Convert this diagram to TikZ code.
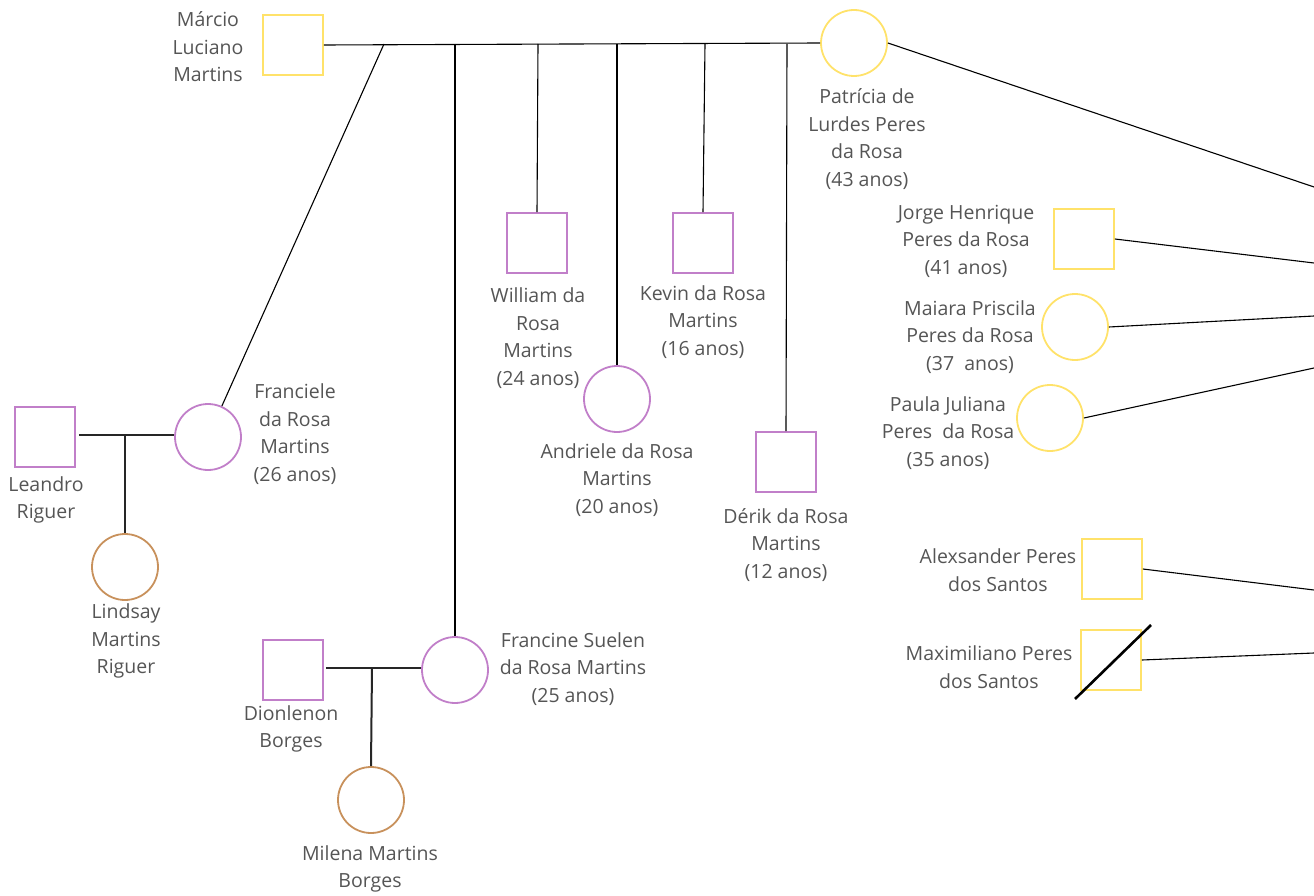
\documentclass[tikz,border=0pt]{standalone}
\usepackage{fontspec}
\setmainfont{Open Sans}
\definecolor{ylw}{HTML}{FFE26A}
\definecolor{prp}{HTML}{C17FC9}
\definecolor{brn}{HTML}{C8915C}
\definecolor{txt}{HTML}{555555}
\tikzset{
  sq/.style={rectangle, minimum size=60pt, inner sep=0pt, line width=1.8pt},
  ci/.style={circle, minimum size=66pt, inner sep=0pt, line width=1.8pt},
  lbl/.style={align=center, text=txt, font=\fontsize{19.5}{27.5}\selectfont, inner sep=0pt},
  conn/.style={line width=1.1pt, draw=black},
  marr/.style={line width=2pt, draw=black!85},
  slash/.style={line width=2.6pt, draw=black},
}
\begin{document}
\begin{tikzpicture}[x=1pt,y=-1pt]
\useasboundingbox (0,0) rectangle (1314,896);
% generation 1
\node[sq, draw=ylw] (marcio) at (293,45) {};
\node[lbl] (tmarcio) at (208,47) {Márcio\\Luciano\\Martins};
\node[ci, draw=ylw] (patricia) at (854,43) {};
\node[lbl] (tpatricia) at (867,139) {Patrícia de\\Lurdes Peres\\da Rosa\\(43 anos)};
% children
\node[ci, draw=prp] (franciele) at (208,437) {};
\node[lbl] (tfranciele) at (295,434) {Franciele\\da Rosa\\Martins\\(26 anos)};
\node[ci, draw=prp] (francine) at (455,670) {};
\node[lbl] (tfrancine) at (573,669) {Francine Suelen\\da Rosa Martins\\(25 anos)};
\node[sq, draw=prp] (william) at (537,243) {};
\node[lbl] (twilliam) at (538,338) {William da\\Rosa\\Martins\\(24 anos)};
\node[ci, draw=prp] (andriele) at (617,399) {};
\node[lbl] (tandriele) at (617,480) {Andriele da Rosa\\Martins\\(20 anos)};
\node[sq, draw=prp] (kevin) at (703,243) {};
\node[lbl] (tkevin) at (703,322) {Kevin da Rosa\\Martins\\(16 anos)};
\node[sq, draw=prp] (derik) at (786,462) {};
\node[lbl] (tderik) at (786,545) {Dérik da Rosa\\Martins\\(12 anos)};
% Franciele family
\node[sq, draw=prp] (leandro) at (45,437) {};
\node[lbl] (tleandro) at (46,500) {Leandro\\Riguer};
\node[ci, draw=brn] (lindsay) at (125,567) {};
\node[lbl] (tlindsay) at (126,641) {Lindsay\\Martins\\Riguer};
% Francine family
\node[sq, draw=prp] (dionlenon) at (293,670) {};
\node[lbl] (tdionlenon) at (291,729) {Dionlenon\\Borges};
\node[ci, draw=brn] (milena) at (371,800) {};
\node[lbl] (tmilena) at (370,869) {Milena Martins\\Borges};
% Patricia siblings
\node[sq, draw=ylw] (jorge) at (1084,239) {};
\node[lbl] (tjorge) at (966,241) {Jorge Henrique\\Peres da Rosa\\(41 anos)};
\node[ci, draw=ylw] (maiara) at (1075,327) {};
\node[lbl] (tmaiara) at (970,337) {Maiara Priscila\\Peres da Rosa\\(37~ anos)};
\node[ci, draw=ylw] (paula) at (1050,418) {};
\node[lbl] (tpaula) at (948,433) {Paula Juliana\\Peres~ da Rosa\\(35 anos)};
\node[sq, draw=ylw] (alex) at (1112,569) {};
\node[lbl] (talex) at (998,570) {Alexsander Peres\\dos Santos};
\node[sq, draw=ylw] (maxim) at (1111,660) {};
\node[lbl] (tmaxim) at (989,667) {Maximiliano Peres\\dos Santos};
% coordinates
\coordinate (jfr) at (384,44);
\coordinate (jfc) at (455,44);
\coordinate (jwi) at (538,44);
\coordinate (jan) at (617,44);
\coordinate (jke) at (705,44);
\coordinate (jde) at (787,44);
\coordinate (e1) at (1314,187);
\coordinate (e2) at (1314,263);
\coordinate (e3) at (1314,316);
\coordinate (e4) at (1314,368);
\coordinate (e5) at (1314,590);
\coordinate (e6) at (1314,653);
\coordinate (jl) at (125,435);
\coordinate (jm) at (372,668);
\coordinate (s1) at (1075,699);
\coordinate (s2) at (1151,625);
% connectors
\draw[conn] (marcio.east) -- (patricia.west);
\draw[conn] (jfr) -- (franciele);
\draw[conn] (jfc) -- (francine.north);
\draw[conn] (jwi) -- (william.north);
\draw[conn] (jan) -- (andriele.north);
\draw[conn] (jke) -- (kevin.north);
\draw[conn] (jde) -- (derik.north);
\draw[conn] (patricia.east) -- (e1);
\draw[conn] (jorge.east) -- (e2);
\draw[conn] (maiara.east) -- (e3);
\draw[conn] (paula.east) -- (e4);
\draw[conn] (alex.east) -- (e5);
\draw[conn] (maxim.east) -- (e6);
\draw[marr] (leandro.east |- jl) ++(3,0) -- (franciele.west |- jl);
\draw[marr] (jl) -- (lindsay.north);
\draw[marr] (dionlenon.east |- jm) ++(2,0) -- (francine.west |- jm);
\draw[marr] (jm) -- (milena.north);
\draw[slash] (s1) -- (s2);
\end{tikzpicture}
\end{document}
